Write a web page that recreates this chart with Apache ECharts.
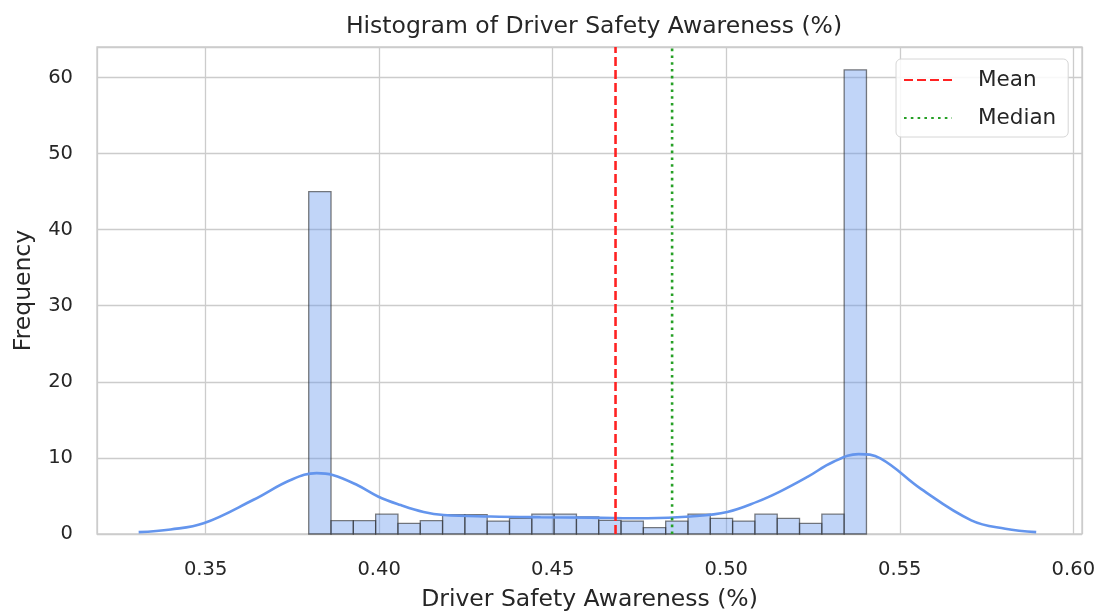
<!DOCTYPE html>
<html>
<head>
<meta charset="utf-8">
<script src="https://cdn.jsdelivr.net/npm/echarts@6/dist/echarts.min.js"></script>
<style>
html,body{margin:0;padding:0;background:#fff;}
#chart{width:1103px;height:613px;}
</style>
</head>
<body>
<div id="chart"></div>
<script>
// ---- data ----
const binStart = 0.3797;
const binWidth = 0.006428;
const histCounts = [45, 1.75, 1.75, 2.6, 1.4, 1.75, 2.55, 2.55, 1.7, 2.05, 2.6, 2.6, 2.25,
                    1.8, 1.7, 0.85, 1.7, 2.6, 2.05, 1.7, 2.6, 2.05, 1.4, 2.6, 61];
const kdeX = [0.3307, 0.3399, 0.3494, 0.3638, 0.3745, 0.3820, 0.3866, 0.3938, 0.3998, 0.4062,
              0.4128, 0.4186, 0.4321, 0.4465, 0.4609, 0.4773, 0.4897, 0.5003, 0.5090, 0.5156,
              0.5234, 0.5309, 0.5381, 0.5444, 0.5562, 0.5706, 0.5804, 0.5893];
const kdeY = [0.25, 0.6, 1.4, 4.5, 7.1, 8.0, 7.75, 6.4, 4.9, 3.8,
              2.9, 2.5, 2.3, 2.2, 2.15, 2.06, 2.3, 2.9, 4.25, 5.6,
              7.5, 9.5, 10.5, 9.95, 5.9, 1.8, 0.7, 0.25];
const meanValue = 0.4681;
const medianValue = 0.4844;
const xRange = [0.3187, 0.6025];
const yRange = [0, 64];

const histData = histCounts.map((c, i) => [binStart + i * binWidth, binStart + (i + 1) * binWidth, c]);
const kdeData = kdeX.map((x, i) => [x, kdeY[i]]);

const FONT = 'DejaVu Sans, Liberation Sans, sans-serif';
const TXT = '#262626';

const chart = echarts.init(document.getElementById('chart'), null, {renderer: 'canvas'});
chart.setOption({
  animation: false,
  backgroundColor: '#ffffff',
  title: {
    text: 'Histogram of Driver Safety Awareness (%)',
    left: 589, textAlign: 'center', top: 10,
    textStyle: {fontFamily: FONT, fontSize: 23.5, fontWeight: 'normal', color: TXT}
  },
  legend: {
    orient: 'vertical', left: 896, top: 59,
    itemWidth: 48, itemHeight: 14, itemGap: 16,
    padding: [10, 12, 8, 7],
    backgroundColor: 'rgba(255,255,255,0.85)',
    borderColor: '#d6d6d6', borderWidth: 1, borderRadius: 5,
    itemStyle: {opacity: 0, borderWidth: 0},
    textStyle: {fontFamily: FONT, fontSize: 21.5, color: TXT, padding: [0, 0, 0, 21]},
    data: ['Mean', 'Median']
  },
  grid: {left: 97, right: 21, top: 47, bottom: 79, show: true, borderColor: '#cccccc', borderWidth: 1.3,
         containLabel: false, outerBoundsMode: 'none'},
  xAxis: {
    type: 'value', min: xRange[0], max: xRange[1],
    minInterval: 0.05, maxInterval: 0.05,
    name: 'Driver Safety Awareness (%)', nameLocation: 'middle', nameGap: 54,
    nameTextStyle: {fontFamily: FONT, fontSize: 23.5, color: TXT},
    axisLine: {show: false}, axisTick: {show: false},
    axisLabel: {fontFamily: FONT, fontSize: 19.5, color: TXT, margin: 26, showMinLabel: false, showMaxLabel: false,
                formatter: v => v.toFixed(2)},
    splitLine: {show: true, lineStyle: {color: '#cccccc', width: 1.3}}
  },
  yAxis: {
    type: 'value', min: yRange[0], max: yRange[1], interval: 10,
    name: 'Frequency', nameLocation: 'middle', nameGap: 61, nameRotate: 90,
    nameTextStyle: {fontFamily: FONT, fontSize: 23.5, color: TXT},
    axisLine: {show: false}, axisTick: {show: false},
    axisLabel: {fontFamily: FONT, fontSize: 19.5, color: TXT, margin: 24, showMaxLabel: false},
    splitLine: {show: true, lineStyle: {color: '#cccccc', width: 1.3}}
  },
  series: [
    {
      type: 'custom', name: 'hist', z: 2,
      data: histData,
      renderItem: function (params, api) {
        const p0 = api.coord([api.value(0), api.value(2)]);
        const p1 = api.coord([api.value(1), 0]);
        return {
          type: 'rect',
          shape: {x: p0[0], y: p0[1], width: p1[0] - p0[0], height: p1[1] - p0[1]},
          style: {fill: 'rgba(100,149,237,0.4)', stroke: 'rgba(40,40,40,0.6)', lineWidth: 1.3}
        };
      }
    },
    {
      type: 'line', name: 'kde', z: 3,
      data: kdeData, smooth: 0.4, symbol: 'none',
      lineStyle: {color: '#6495ED', width: 2.6}
    },
    {
      type: 'line', name: 'Mean', z: 4, symbol: 'none',
      data: [[meanValue, yRange[0]], [meanValue, yRange[1]]],
      itemStyle: {color: '#ff2222'},
      lineStyle: {color: '#ff2222', width: 2.6, type: [9, 4]}
    },
    {
      type: 'line', name: 'Median', z: 4, symbol: 'none',
      data: [[medianValue, yRange[0]], [medianValue, yRange[1]]],
      itemStyle: {color: '#26a026'},
      lineStyle: {color: '#26a026', width: 2.6, type: [2.6, 4.2]}
    }
  ]
});
</script>
</body>
</html>
